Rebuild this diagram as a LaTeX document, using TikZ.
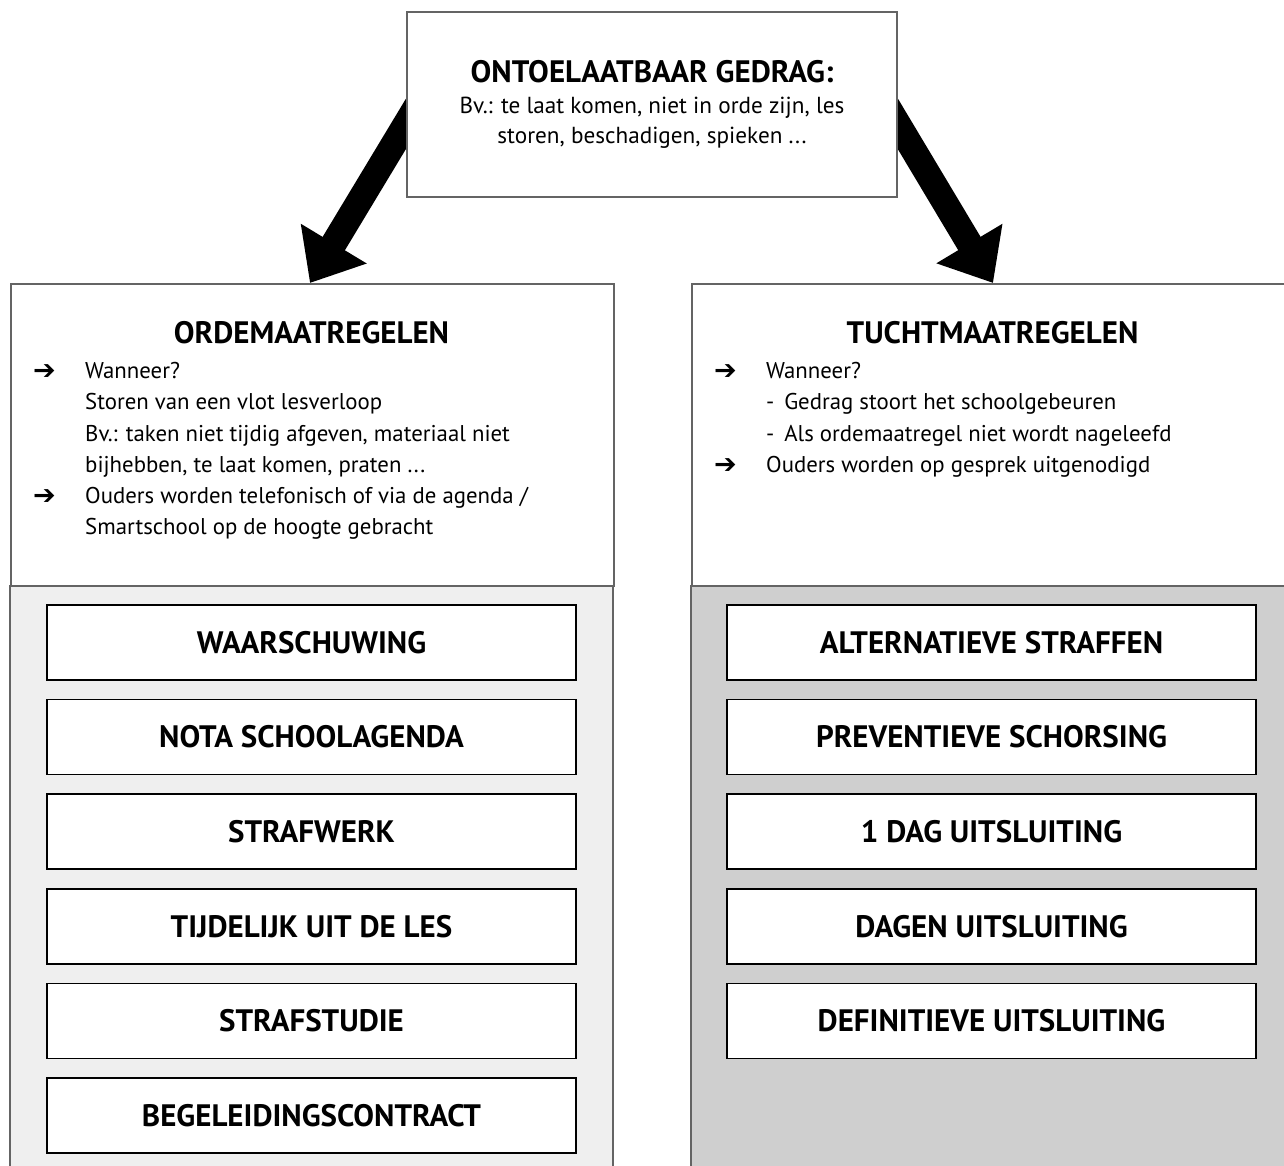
\documentclass[tikz,border=0pt]{standalone}
\usepackage{fontspec}
\setmainfont{PT Sans}
\newfontfamily\symbfont{DejaVu Sans}
\usetikzlibrary{arrows.meta, positioning}
\definecolor{randgrijs}{RGB}{100,100,100}
\definecolor{lichtgrijs}{RGB}{239,239,239}
\definecolor{donkergrijs}{RGB}{207,207,207}
\newcommand{\pijl}{\makebox[52pt][l]{\symbfont\fontsize{27}{27}\selectfont\raisebox{-1pt}{➔}}}
\newcommand{\inspring}{\hspace*{52pt}}

\tikzset{
  paneel/.style={draw=randgrijs, line width=2pt, minimum width=603pt, minimum height=302pt, anchor=north west},
  titel/.style={font=\fontsize{31}{34}\selectfont\bfseries},
  tekst/.style={font=\fontsize{22.8}{31.3}\selectfont, align=left, inner sep=0pt, anchor=north west},
  maatregel/.style={draw=black, line width=1.5pt, fill=white, minimum width=529pt, minimum height=75pt, font=\fontsize{31}{34}\selectfont\bfseries},
  dikkepijl/.style={line width=26pt, -{Triangle[length=46pt,width=74pt]}},
}

\begin{document}
\begin{tikzpicture}[x=1pt,y=-1pt]
  \useasboundingbox (0,0) rectangle (1284,1166);
  % pijlen naar de twee panelen
  \coordinate (lstart) at (436,74);
  \coordinate (ltip) at (310,283);
  \coordinate (rstart) at (868,74);
  \coordinate (rtip) at (993,283);
  \draw[dikkepijl] (lstart) -- (ltip);
  \draw[dikkepijl] (rstart) -- (rtip);

  % bovenste kader
  \node[draw=randgrijs, line width=2pt, fill=white, minimum width=490pt, minimum height=185pt, align=center,
        font=\fontsize{23.2}{30}\selectfont] (gedrag) at (652,104.5)
    {{\fontsize{31}{34}\selectfont\bfseries ONTOELAATBAAR GEDRAG:}\\[1pt]
     Bv.: te laat komen, niet in orde zijn, les\\
     storen, beschadigen, spieken ...};

  % linker paneel
  \fill[lichtgrijs] (10,585) rectangle (613,1180);
  \node[paneel] (orde) at (10,283) {};
  \draw[randgrijs, line width=2pt] (10,585) -- (10,1180) (613,585) -- (613,1180);
  \node[titel] (ordetitel) at (311.5,333) {ORDEMAATREGELEN};
  \node[tekst] (ordetekst) at (33,362)
    {\pijl Wanneer?\\
     \inspring Storen van een vlot lesverloop\\
     \inspring Bv.: taken niet tijdig afgeven, materiaal niet\\
     \inspring bijhebben, te laat komen, praten ...\\
     \pijl Ouders worden telefonisch of via de agenda /\\
     \inspring Smartschool op de hoogte gebracht};

  % rechter paneel
  \fill[donkergrijs] (691,585) rectangle (1294,1180);
  \node[paneel] (tucht) at (691,283) {};
  \draw[randgrijs, line width=2pt] (691,585) -- (691,1180);
  \node[titel] (tuchttitel) at (992.5,333) {TUCHTMAATREGELEN};
  \node[tekst] (tuchttekst) at (714,362)
    {\pijl Wanneer?\\
     \inspring - \,Gedrag stoort het schoolgebeuren\\
     \inspring - \,Als ordemaatregel niet wordt nageleefd\\
     \pijl Ouders worden op gesprek uitgenodigd};

  % maatregelen
  \foreach \naam [count=\i] in {WAARSCHUWING, NOTA SCHOOLAGENDA, STRAFWERK,
      TIJDELIJK UIT DE LES, STRAFSTUDIE, BEGELEIDINGSCONTRACT}
    \node[maatregel] (orde\i) at (311.5,{642.5+94.6*(\i-1)}) {\naam};
  \foreach \naam [count=\i] in {ALTERNATIEVE STRAFFEN, PREVENTIEVE SCHORSING,
      1 DAG UITSLUITING, DAGEN UITSLUITING, DEFINITIEVE UITSLUITING}
    \node[maatregel] (tucht\i) at (991.5,{642.5+94.6*(\i-1)}) {\naam};
\end{tikzpicture}
\end{document}
